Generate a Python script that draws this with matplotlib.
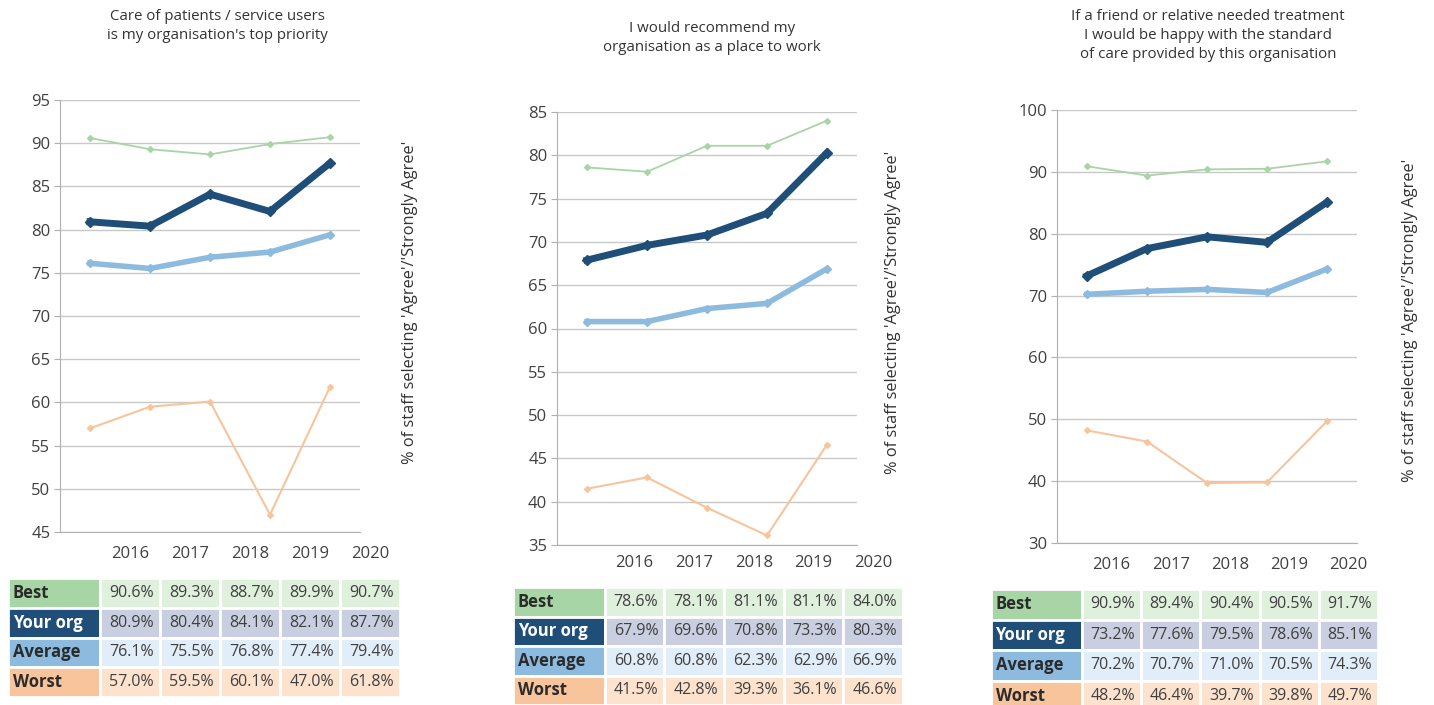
import matplotlib
matplotlib.use("Agg")
import matplotlib.pyplot as plt
import matplotlib.transforms as mtransforms
import numpy as np

plt.rcParams['font.family'] = ['Open Sans', 'DejaVu Sans']

W, H = 1434, 705

years = ["2016", "2017", "2018", "2019", "2020"]
row_names = ["Best", "Your org", "Average", "Worst"]

titles = [
    "Care of patients / service users\nis my organisation's top priority",
    "I would recommend my\norganisation as a place to work",
    "If a friend or relative needed treatment\nI would be happy with the standard\nof care provided by this organisation",
]

best_1 = [90.6, 89.3, 88.7, 89.9, 90.7]
your_1 = [80.9, 80.4, 84.1, 82.1, 87.7]
avg_1 = [76.1, 75.5, 76.8, 77.4, 79.4]
worst_1 = [57.0, 59.5, 60.1, 47.0, 61.8]

best_2 = [78.6, 78.1, 81.1, 81.1, 84.0]
your_2 = [67.9, 69.6, 70.8, 73.3, 80.3]
avg_2 = [60.8, 60.8, 62.3, 62.9, 66.9]
worst_2 = [41.5, 42.8, 39.3, 36.1, 46.6]

best_3 = [90.9, 89.4, 90.4, 90.5, 91.7]
your_3 = [73.2, 77.6, 79.5, 78.6, 85.1]
avg_3 = [70.2, 70.7, 71.0, 70.5, 74.3]
worst_3 = [48.2, 46.4, 39.7, 39.8, 49.7]

y_ranges = [(45, 95, 5), (35, 85, 5), (30, 100, 10)]

# layout in pixels: (left, top, right, bottom)
plot_boxes = [(60, 100, 360, 532), (557, 112, 857, 545), (1057, 110, 1357, 543)]
table_boxes = [(8, 578, 400, 697), (513, 587, 903, 705), (991, 589, 1378, 711)]
title_pos = [(217, 9), (712, 21), (1208, 9)]
ylabel_pos = [(410, 302), (893, 312), (1410, 320)]

line_colors = ["#a9d4a6", "#1f4e79", "#8dbbe0", "#f7c49b"]
line_widths = [1.3, 5, 4, 1.5]
marker_sizes = [3, 5.5, 4.5, 3]
label_bg = ["#a8d5a6", "#1f4e79", "#8dbbe0", "#f8c49b"]
cell_bg = ["#dff0dd", "#c9cfe0", "#e1edf8", "#fde3cd"]
text_col = "#404040"


def px_axes(fig, box):
    l, t, r, b = box
    return fig.add_axes([l / W, 1 - b / H, (r - l) / W, (b - t) / H])


fig = plt.figure(figsize=(W / 100, H / 100), dpi=100)

panels = [
    [best_1, your_1, avg_1, worst_1],
    [best_2, your_2, avg_2, worst_2],
    [best_3, your_3, avg_3, worst_3],
]

for p, series in enumerate(panels):
    ax = px_axes(fig, plot_boxes[p])
    x = np.arange(len(years))
    order = [0, 3, 2, 1]
    for k in order:
        ax.plot(x, series[k], color=line_colors[k], lw=line_widths[k],
                marker="D", ms=marker_sizes[k], solid_joinstyle="miter",
                zorder=3 + (k == 1))
    lo, hi, step = y_ranges[p]
    ax.set_ylim(lo, hi)
    ax.set_xlim(-0.5, 4.5)
    ax.set_yticks(np.arange(lo, hi + 1, step))
    ax.set_xticks([])
    ax.yaxis.grid(True, color="#c8c8c8", lw=1)
    ax.set_axisbelow(True)
    for s in ["top", "right"]:
        ax.spines[s].set_visible(False)
    ax.spines["left"].set_color("#b0b0b0")
    ax.spines["bottom"].set_color("#b0b0b0")
    ax.tick_params(axis="y", length=4, color="#b0b0b0", labelsize=12,
                   labelcolor=text_col, pad=3)

    fig.text(title_pos[p][0] / W, 1 - title_pos[p][1] / H, titles[p],
             ha="center", va="top", fontsize=10.8, color="#333333",
             linespacing=1.35)
    fig.text(ylabel_pos[p][0] / W, 1 - ylabel_pos[p][1] / H,
             "% of staff selecting 'Agree'/'Strongly Agree'",
             rotation=90, ha="center", va="center", fontsize=11.8,
             color="#333333")

    # table
    tax = px_axes(fig, table_boxes[p])
    tax.axis("off")
    cell_text = []
    colours = []
    for k in range(4):
        cell_text.append([row_names[k]] + ["%.1f%%" % v for v in series[k]])
        colours.append([label_bg[k]] + [cell_bg[k]] * 5)
    widths = np.array([92, 60, 60, 60, 60, 60], dtype=float)
    widths = widths / widths.sum()
    tab = tax.table(cellText=cell_text, cellColours=colours,
                    colWidths=list(widths), bbox=[0, 0, 1, 1])
    tab.auto_set_font_size(False)
    for (r, c), cell in tab.get_celld().items():
        cell.set_edgecolor("white")
        cell.set_linewidth(2)
        txt = cell.get_text()
        if c == 0:
            txt.set_ha("left")
            cell.PAD = 0.05
            txt.set_fontsize(12)
            txt.set_fontweight("bold")
            txt.set_color("white" if r == 1 else "#2b2b2b")
        else:
            txt.set_fontsize(11.5)
            txt.set_color(text_col)
    # year labels above the data columns
    centers = np.cumsum(widths) - widths / 2
    trans = mtransforms.offset_copy(tax.transAxes, fig=fig, x=0, y=24,
                                    units="dots")
    for j, yr in enumerate(years):
        tax.text(centers[j + 1], 1, yr, transform=trans, ha="center",
                 va="center", fontsize=12, color=text_col)

fig.savefig("out.png", dpi=100)
